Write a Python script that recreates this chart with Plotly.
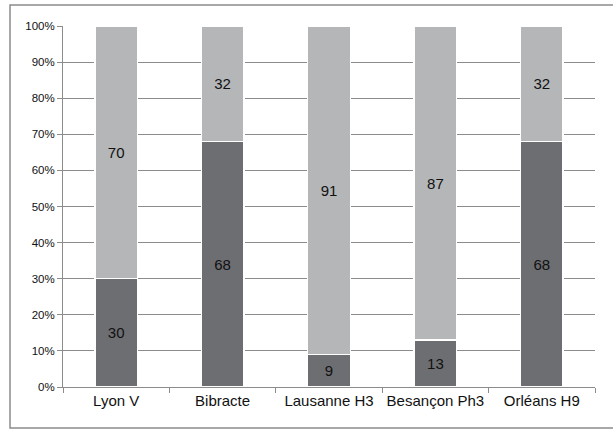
import plotly.graph_objects as go

sites = ["Lyon V", "Bibracte", "Lausanne H3", "Besançon Ph3", "Orléans H9"]
dark_vals = [30, 68, 9, 13, 68]
light_vals = [70, 32, 91, 87, 32]
y_ticks = [0, 10, 20, 30, 40, 50, 60, 70, 80, 90, 100]
y_labels = [f"{v}%" for v in y_ticks]

fig = go.Figure()
fig.add_trace(go.Bar(
    x=sites, y=dark_vals, text=dark_vals,
    marker=dict(color="#6d6e71", line=dict(color="white", width=1.5)),
))
fig.add_trace(go.Bar(
    x=sites, y=light_vals, text=light_vals,
    marker=dict(color="#b4b6b8", line=dict(color="white", width=1.5)),
))
fig.update_traces(
    texttemplate="%{text}", textposition="inside", insidetextanchor="middle",
    textfont=dict(color="#111111", size=15), textangle=0, cliponaxis=False,
)

fig.update_layout(
    width=613, height=429,
    margin=dict(l=63, r=18, t=26, b=42, autoexpand=False),
    barmode="stack", barnorm="percent", bargap=0.6,
    showlegend=False,
    plot_bgcolor="white", paper_bgcolor="white",
    font=dict(family="Liberation Sans, Arial, sans-serif", color="#111111"),
    xaxis=dict(
        showline=True, linecolor="#8c8c8c", linewidth=1,
        ticks="outside", tickson="boundaries", ticklen=5, tickcolor="#8c8c8c",
        tickfont=dict(size=15), showgrid=False, tickangle=0, automargin=False,
    ),
    yaxis=dict(
        range=[0, 100], tickvals=y_ticks, ticktext=y_labels,
        showline=True, linecolor="#8c8c8c", linewidth=1,
        ticks="outside", ticklen=5, tickcolor="#8c8c8c",
        showgrid=True, gridcolor="#8c8c8c", gridwidth=1,
        tickfont=dict(size=11.5), zeroline=False, automargin=False,
    ),
    shapes=[dict(
        type="rect", xref="paper", yref="paper",
        x0=-0.0996, x1=1.1, y0=-0.1136, y1=1.058,
        line=dict(color="#8c8c8c", width=1.5), layer="below",
    )],
)

# drop the browser's default body margin so the chart sits at 0,0
fig.write_html("out.html", config={"displayModeBar": False},
               post_script="document.body.style.margin='0';")
